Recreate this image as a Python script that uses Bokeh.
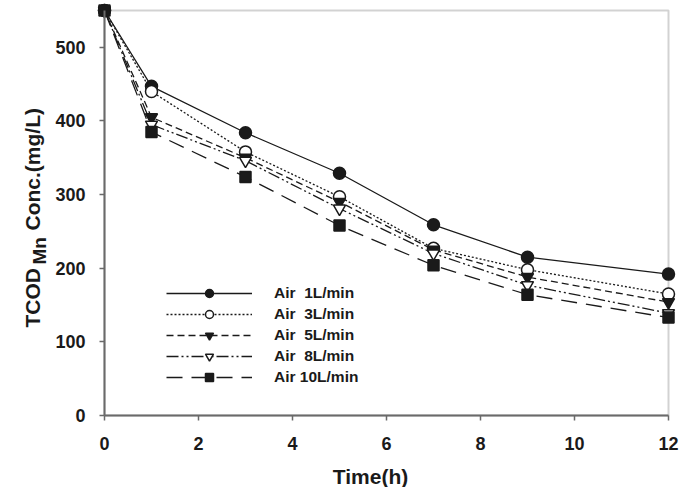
import math
from bokeh.plotting import figure
from bokeh.models import (Range1d, Legend, LegendItem, Label, FixedTicker,
                          LinearAxis, BoxAnnotation)
from bokeh.embed import file_html
from bokeh.resources import INLINE

# Sampling times (h) and TCOD_Mn concentrations (mg/L) for each aeration rate
time_h = [0, 1, 3, 5, 7, 9, 12]
air_1 = [550, 447, 384, 329, 259, 215, 192]
air_3 = [550, 440, 358, 297, 227, 198, 165]
air_5 = [550, 405, 350, 290, 225, 188, 154]
air_8 = [550, 395, 346, 281, 220, 177, 139]
air_10 = [550, 385, 324, 258, 204, 164, 133]

series_labels = ["Air  1L/min", "Air  3L/min", "Air  5L/min", "Air  8L/min", "Air 10L/min"]
x_ticks = [0, 2, 4, 6, 8, 10, 12]
y_ticks = [0, 100, 200, 300, 400, 500]
x_lim = (0, 12)
y_lim = (0, 550)

FONT = "Liberation Sans"
INK = "#1a1a1a"
FRAME = "#6a6a6a"

W, H = 680, 487
# Plot area inside the canvas (pixels): left, right, top, bottom
L_PX, R_PX, T_PX, B_PX = 104, 668, 10, 415

# The frame fills the whole canvas; ranges are widened so the data box sits at the
# pixel rectangle above and markers/titles outside the box are not clipped.
sx = (R_PX - L_PX) / (x_lim[1] - x_lim[0])
sy = (B_PX - T_PX) / (y_lim[1] - y_lim[0])
x_range = Range1d(x_lim[0] - L_PX / sx, x_lim[1] + (W - R_PX) / sx)
y_range = Range1d(y_lim[0] - (H - B_PX) / sy, y_lim[1] + T_PX / sy)

p = figure(width=W, height=H, output_backend="svg", toolbar_location=None,
           x_range=x_range, y_range=y_range,
           x_axis_location=None, y_axis_location=None,
           min_border=0)
p.grid.visible = False
p.outline_line_color = None
p.background_fill_color = "white"
p.border_fill_color = "white"

# Box around the data area
p.add_layout(BoxAnnotation(left=x_lim[0], right=x_lim[1], bottom=y_lim[0], top=y_lim[1],
                           fill_alpha=0, line_color=FRAME, line_width=2, level="underlay"))

xaxis = LinearAxis(fixed_location=y_lim[0], bounds=x_lim, ticker=FixedTicker(ticks=x_ticks))
yaxis = LinearAxis(fixed_location=x_lim[0], bounds=y_lim, ticker=FixedTicker(ticks=y_ticks))
for ax in (xaxis, yaxis):
    ax.axis_line_color = FRAME
    ax.axis_line_width = 2
    ax.major_tick_line_color = FRAME
    ax.major_tick_line_width = 1.5
    ax.major_tick_out = 5
    ax.major_tick_in = 0
    ax.minor_tick_line_color = None
    ax.major_label_text_font = FONT
    ax.major_label_text_font_style = "bold"
    ax.major_label_text_font_size = "18px"
    ax.major_label_text_color = INK
xaxis.major_label_standoff = 16
yaxis.major_label_standoff = 14
p.add_layout(xaxis, "below")
p.add_layout(yaxis, "left")

styles = [
    dict(y=air_1, dash="solid", marker="circle", fill=INK, size=12),
    dict(y=air_3, dash="2 2", marker="circle", fill="white", size=12),
    dict(y=air_5, dash="7 4", marker="inverted_triangle", fill=INK, size=12),
    dict(y=air_8, dash="12 3 2 3 2 3", marker="inverted_triangle", fill="white", size=12),
    dict(y=air_10, dash="16 9", marker="square", fill=INK, size=11),
]

items = []
for lab, st in zip(series_labels, styles):
    ln = p.line(time_h, st["y"], line_color=INK, line_width=1.3, line_dash=st["dash"])
    mk = p.scatter(time_h, st["y"], marker=st["marker"], size=st["size"],
                   fill_color=st["fill"], line_color=INK, line_width=1.5)
    items.append(LegendItem(label=lab, renderers=[ln, mk]))

legend = Legend(items=items, location=(166, 100), glyph_width=86, glyph_height=20,
                spacing=1, padding=0, margin=0, label_standoff=22,
                label_text_font=FONT, label_text_font_style="bold",
                label_text_font_size="15.5px", label_text_color=INK,
                border_line_color=None, background_fill_alpha=0)
p.add_layout(legend, "center")

# Axis titles in screen units (origin at the canvas bottom-left)
title_style = dict(x_units="screen", y_units="screen",
                   text_font=FONT, text_font_style="bold", text_color=INK,
                   text_baseline="alphabetic")
p.add_layout(Label(x=370, y=11, text="Time(h)", text_font_size="21px",
                   text_align="center", **title_style))

# Rotated y-axis title with subscript "Mn"
rot = dict(angle=math.pi / 2, text_align="left", **title_style)
p.add_layout(Label(x=32, y=160, text="TCOD", text_font_size="21px", **rot))
p.add_layout(Label(x=39, y=223, text="Mn", text_font_size="19px", **rot))
p.add_layout(Label(x=32, y=257, text="Conc.(mg/L)", text_font_size="21px", **rot))

open("out.html", "w").write(file_html(p, INLINE))
